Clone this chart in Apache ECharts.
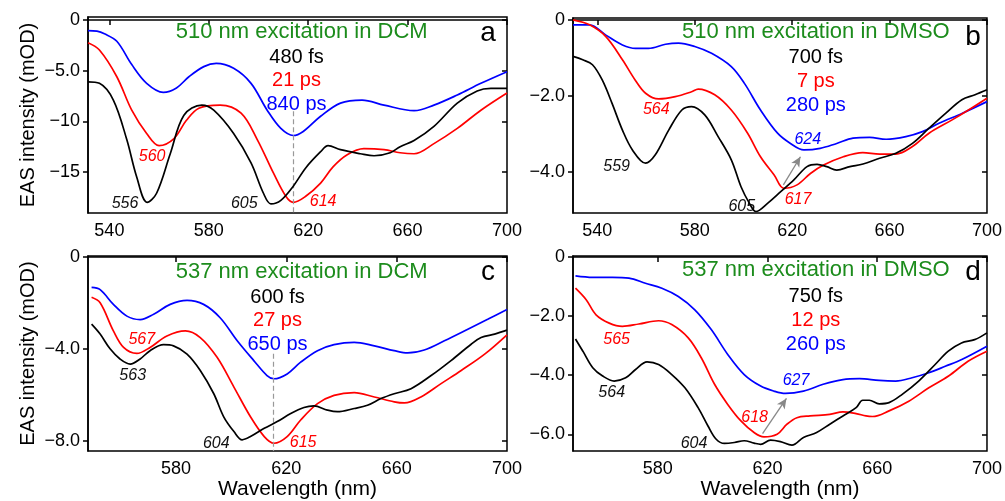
<!DOCTYPE html>
<html><head><meta charset="utf-8">
<script src="https://cdn.jsdelivr.net/npm/echarts@6/dist/echarts.min.js"></script>
<style>html,body{margin:0;padding:0;background:#fff}#c{width:1005px;height:501px}</style>
</head><body><div id="c"></div>
<script>
const FONT = '"Liberation Sans", Arial, Helvetica, sans-serif';

// ---------- data: [wavelength nm, EAS mOD] ----------
const aBlack = [[531.4,-6.1],[536,-6.25],[541.6,-7.9],[547,-11.8],[551,-15.5],[555.2,-18.0],[559,-17.1],[564.5,-13.2],[570,-9.4],[577.2,-8.4],[582,-8.9],[590,-11.2],[597,-14.1],[602,-17.1],[605,-18.15],[609,-17.8],[614,-16.4],[619,-14.6],[625,-13.0],[628,-12.4],[633,-12.8],[641,-13.2],[646.5,-13.4],[653,-13.1],[657,-12.5],[662.6,-11.9],[670.6,-10.5],[680,-8.2],[688,-7.0],[693.5,-6.75],[700,-6.75]];
const aRed = [[531.4,-2.24],[536,-2.96],[543,-5.6],[549,-8.9],[555,-11.2],[560,-12.4],[566,-11.7],[571,-9.9],[576,-8.7],[584.6,-8.4],[593,-9.2],[599.5,-11.8],[606,-15.1],[611,-17.4],[614,-18.0],[619,-17.4],[625,-16.1],[630,-14.5],[635.7,-13.3],[642.4,-12.7],[650.5,-12.8],[657,-13.1],[662.6,-13.2],[670.6,-12.2],[680,-10.7],[689.5,-8.9],[700,-7.2]];
const aBlue = [[531.4,-1.05],[535,-1.1],[538,-1.35],[543,-2.1],[549,-4.4],[555,-6.25],[561.7,-7.14],[567,-6.7],[572,-5.6],[578,-4.6],[583,-4.28],[590,-4.77],[597,-6.25],[603.5,-8.9],[609,-10.7],[614,-11.4],[618,-11.0],[625,-9.5],[633,-8.2],[641.7,-7.9],[650.5,-8.4],[662.6,-8.95],[670.6,-8.4],[680,-7.4],[689.5,-6.25],[700,-5.1]];

const bBlack = [[530,-0.96],[534,-1.05],[538,-1.18],[542,-1.58],[546,-2.19],[550.3,-2.9],[554.4,-3.42],[559.8,-3.77],[563.8,-3.55],[569.3,-2.9],[574.7,-2.37],[578.7,-2.28],[584.1,-2.5],[589.6,-3.07],[595,-3.68],[599,-4.39],[602.4,-4.82],[605.1,-5.04],[610,-4.82],[615.3,-4.52],[620.7,-4.21],[626.1,-3.86],[630.2,-3.8],[634.2,-3.86],[638.3,-3.95],[643.7,-3.86],[649.1,-3.79],[655.9,-3.64],[662.6,-3.51],[669.4,-3.25],[676.2,-2.85],[683,-2.46],[689.7,-2.1],[695.1,-1.97],[700,-1.84]];
const bRed = [[530,0],[536.8,-0.13],[543.5,-0.44],[550.3,-1.05],[555.5,-1.58],[559.8,-1.93],[565.2,-2.08],[572,-2.02],[578.7,-1.89],[581.4,-1.82],[588.2,-1.97],[595,-2.37],[601.7,-2.98],[607,-3.6],[612.6,-4.08],[616.6,-4.43],[622,-4.34],[627.5,-4.04],[632.9,-3.82],[641,-3.6],[649,-3.49],[655.9,-3.53],[662.6,-3.53],[669.4,-3.33],[676.2,-2.98],[685.7,-2.63],[692.4,-2.37],[700,-2.06]];
const bBlue = [[530,-0.13],[536.8,-0.13],[543.5,-0.4],[550.3,-0.66],[555.7,-0.75],[561,-0.75],[568,-0.64],[573.3,-0.61],[580,-0.7],[586.9,-0.88],[595,-1.23],[600.4,-1.67],[607,-2.37],[614,-2.98],[619.3,-3.25],[624.8,-3.42],[631.5,-3.38],[638.3,-3.25],[645,-3.11],[651.8,-3.09],[658.6,-3.14],[666.7,-3.07],[673.5,-2.94],[680.3,-2.72],[689.7,-2.46],[700,-2.15]];

const cBlack = [[549.4,-2.92],[552.5,-3.35],[556.1,-3.99],[559.7,-4.43],[563.4,-4.65],[567,-4.43],[570.6,-4.07],[575.5,-3.81],[579.1,-3.86],[584,-4.22],[588.8,-4.93],[593.7,-5.94],[597.3,-6.94],[601,-7.58],[604,-7.94],[607,-7.8],[612,-7.44],[616.7,-7.15],[621.6,-6.8],[626.4,-6.54],[630,-6.47],[634.9,-6.65],[638.5,-6.72],[644.6,-6.58],[649.4,-6.44],[654.3,-6.15],[659.1,-5.94],[665.2,-5.72],[672.5,-5.15],[679.7,-4.5],[687,-3.79],[690.6,-3.5],[695.5,-3.35],[700,-3.18]];
const cRed = [[549.4,-1.75],[552.5,-1.99],[557.3,-3.21],[561,-3.93],[565.8,-4.19],[570.6,-3.93],[576.7,-3.43],[583.4,-3.21],[588.8,-3.5],[594.9,-4.36],[601,-5.65],[607,-6.94],[612,-7.8],[615.5,-8.09],[620.3,-7.8],[625.2,-7.08],[631.3,-6.37],[637.3,-6.01],[644.6,-5.89],[651.9,-6.08],[659.1,-6.29],[662.8,-6.34],[668.8,-6.08],[676.1,-5.5],[683.4,-4.93],[691.9,-4.22],[700,-3.38]];
const cBlue = [[549.4,-1.32],[552.5,-1.42],[557.3,-2.06],[562.2,-2.57],[567,-2.72],[571.9,-2.49],[577.9,-2.06],[584,-1.89],[590,-2.06],[596,-2.64],[602.2,-3.64],[608.2,-4.5],[613,-5.15],[615.5,-5.29],[620.3,-5.08],[625.2,-4.57],[631.3,-4.07],[637.3,-3.81],[644.6,-3.71],[651.9,-3.86],[659.1,-4.07],[664,-4.17],[670,-4.04],[677.3,-3.64],[685.8,-3.14],[693,-2.71],[700,-2.28]];

const dBlack = [[550,-2.78],[552.7,-3.19],[556.3,-3.75],[559.9,-4.03],[564.1,-4.2],[568.3,-4.09],[571.9,-3.81],[576.1,-3.55],[580.3,-3.64],[585.1,-3.98],[589.9,-4.43],[594.7,-5.1],[598.3,-5.72],[601.3,-6.17],[604.3,-6.31],[607.9,-6.28],[611.5,-6.22],[615.1,-6.3],[617.5,-6.34],[621.1,-6.2],[624.7,-6.25],[628.9,-6.37],[633.1,-6.11],[637.9,-5.94],[642.7,-5.66],[647.5,-5.38],[652.3,-5.1],[654.7,-4.85],[657.1,-4.85],[660.7,-4.97],[664.3,-4.93],[669.1,-4.65],[675.1,-4.2],[681.1,-3.64],[685.9,-3.19],[690.7,-2.91],[695.5,-2.8],[700,-2.57]];
const dRed = [[550,-1.06],[553.9,-1.45],[557.5,-1.96],[562.3,-2.24],[567.1,-2.35],[573.1,-2.27],[580.3,-2.16],[585.1,-2.29],[591.1,-2.74],[595.9,-3.42],[600.7,-4.31],[605.5,-4.99],[610.3,-5.55],[615.1,-5.94],[618.7,-6.09],[623.5,-6.0],[627.1,-5.66],[630.7,-5.44],[635.5,-5.38],[642.7,-5.33],[647.5,-5.24],[652.3,-5.3],[655.9,-5.38],[658.3,-5.4],[664.3,-5.21],[671.5,-4.88],[678.8,-4.43],[686,-4.03],[693.1,-3.53],[700,-3.19]];
const dBlue = [[550,-0.64],[556.3,-0.69],[563.5,-0.69],[569.5,-0.72],[575.5,-0.89],[581.5,-1.06],[587.5,-1.34],[593.5,-1.79],[599.5,-2.46],[605.5,-3.3],[611.5,-3.98],[617.5,-4.37],[622.3,-4.54],[626.5,-4.62],[633.1,-4.54],[640.3,-4.31],[647.5,-4.15],[653.5,-4.12],[660.7,-4.18],[666.7,-4.2],[672.7,-4.09],[678.8,-3.92],[684.8,-3.7],[690.8,-3.47],[700,-3.02]];

// ---------- ticks / labels ----------
const abXTicks = [540, 580, 620, 660, 700];
const cdXTicks = [580, 620, 660, 700];
const aYTicks = [-15, -10, -5, 0];
const aYTickLabels = ['\u221215', '\u221210', '\u22125.0', '0'];
const bYTicks = [-4, -2, 0];
const bYTickLabels = ['\u22124.0', '\u22122.0', '0'];
const cYTicks = [-8, -4, 0];
const cYTickLabels = ['\u22128.0', '\u22124.0', '0'];
const dYTicks = [-6, -4, -2, 0];
const dYTickLabels = ['\u22126.0', '\u22124.0', '\u22122.0', '0'];

const panelTitles = ['510 nm excitation in DCM', '510 nm excitation in DMSO', '537 nm excitation in DCM', '537 nm excitation in DMSO'];
const panelLetters = ['a', 'b', 'c', 'd'];
const lifetimes = [['480 fs', '21 ps', '840 ps'], ['700 fs', '7 ps', '280 ps'], ['600 fs', '27 ps', '650 ps'], ['750 fs', '12 ps', '260 ps']];
const yAxisName = 'EAS intensity (mOD)';
const xAxisName = 'Wavelength (nm)';

// peak annotations: [text, series index (0 black,1 red,2 blue), nm, mOD]
const aPeaks = [['556',0,546.3,-18.16],['605',0,594.3,-18.16],['560',1,557.2,-13.5],['614',1,626.0,-17.94]];
const bPeaks = [['559',0,547.9,-3.86],['605',0,599.3,-4.91],['564',1,564.2,-2.37],['617',1,622.4,-4.72],['624',2,626.4,-3.16]];
const cPeaks = [['563',0,564.3,-5.15],['604',0,594.6,-8.09],['567',1,567.6,-3.6],['615',1,626.1,-8.06]];
const dPeaks = [['564',0,563.2,-4.59],['604',0,593.2,-6.31],['565',1,565.0,-2.8],['618',1,615.3,-5.44],['627',2,630.4,-4.2]];
// guide lines: dashed verticals and arrows [[x1,y1],[x2,y2]]
const aDash = [[614,-9.0],[614,-19.05]];
const cDash = [[615.2,-4.2],[615.2,-8.43]];
const bArrow = [[616.4,-4.34],[623.4,-3.6]];
const dArrow = [[618.2,-5.98],[626.9,-4.79]];

// ---------- layout / style ----------
const COLORS = ['#000000', '#ff0000', '#0000ff'];
const GREEN = '#1c8c1c';
const panels = [
  {grid:{left:88,top:17,width:419,height:196}, x:[531.4,700], y:[-19.05,0.3], xt:abXTicks, yt:aYTicks, yl:aYTickLabels, s:[aBlack,aRed,aBlue], peaks:aPeaks, dash:aDash, yName:true, xName:false,
   title:[301.7,31.7], life:[296.5,57.3,23.5], letter:[488,33]},
  {grid:{left:573,top:18,width:419,height:195}, x:[530,700], y:[-5.08,0.05], xt:abXTicks, yt:bYTicks, yl:bYTickLabels, s:[bBlack,bRed,bBlue], peaks:bPeaks, arrow:bArrow, yName:false, xName:false,
   title:[815.8,32], life:[815.8,57,24], letter:[973,37]},
  {grid:{left:88,top:256,width:419,height:197}, x:[548.1,700], y:[-8.43,0.04], xt:cdXTicks, yt:cYTicks, yl:cYTickLabels, s:[cBlack,cRed,cBlue], peaks:cPeaks, dash:cDash, yName:true, xName:true,
   title:[301.7,271.7], life:[277.5,297.3,23.4], letter:[488,272]},
  {grid:{left:573,top:256,width:419,height:196}, x:[549.1,700], y:[-6.57,0.03], xt:cdXTicks, yt:dYTicks, yl:dYTickLabels, s:[dBlack,dRed,dBlue], peaks:dPeaks, arrow:dArrow, yName:false, xName:true,
   title:[815.8,270], life:[815.8,296.7,23.7], letter:[973,272]}
];

const grid = [], xAxis = [], yAxis = [], series = [], graphic = [];
panels.forEach((p, i) => {
  grid.push(Object.assign({show:true, borderColor:'#000', borderWidth:1.5, backgroundColor:'transparent'}, p.grid));
  const xi = xAxis.length, yi = yAxis.length;
  xAxis.push({type:'value', gridIndex:i, min:p.x[0], max:p.x[1], splitLine:{show:false},
    axisLine:{show:true, lineStyle:{color:'#000', width:1.5}},
    axisTick:{show:true, inside:false, length:4, customValues:p.xt, lineStyle:{color:'#000', width:1.5}},
    axisLabel:{show:true, customValues:p.xt, margin:9, color:'#000', fontSize:18, fontFamily:FONT, formatter:v => String(Math.round(v))},
    name: p.xName ? xAxisName : '', nameLocation:'middle', nameGap:27,
    nameTextStyle:{fontSize:21, color:'#000', fontFamily:FONT, verticalAlign:'top'}});
  xAxis.push({type:'value', gridIndex:i, min:p.x[0], max:p.x[1], splitLine:{show:false},
    axisLine:{show:false}, axisLabel:{show:false},
    axisTick:{show:true, inside:true, length:5, customValues:p.xt, lineStyle:{color:'#000', width:1.5}}});
  yAxis.push({type:'value', gridIndex:i, min:p.y[0], max:p.y[1], splitLine:{show:false},
    axisLine:{show:true, lineStyle:{color:'#000', width:1.5}},
    axisTick:{show:true, inside:false, length:5, customValues:p.yt, lineStyle:{color:'#000', width:1.5}},
    axisLabel:{show:true, customValues:p.yt, margin:8, color:'#000', fontSize:18, fontFamily:FONT,
      formatter:v => { const k = p.yt.findIndex(t => Math.abs(t - v) < 1e-6); return k >= 0 ? p.yl[k] : ''; }},
    name: p.yName ? yAxisName : '', nameLocation:'middle', nameGap:50, nameRotate:90,
    nameTextStyle:{fontSize:20, color:'#000', fontFamily:FONT}});
  yAxis.push({type:'value', gridIndex:i, min:p.y[0], max:p.y[1], splitLine:{show:false},
    axisLine:{show:false}, axisLabel:{show:false},
    axisTick:{show:true, inside:true, length:5, customValues:p.yt, lineStyle:{color:'#000', width:1.5}}});

  p.s.forEach((d, k) => {
    const ser = {type:'line', xAxisIndex:xi, yAxisIndex:yi, data:d, showSymbol:false, smooth:0.35,
      lineStyle:{color:COLORS[k], width:1.7}, itemStyle:{color:COLORS[k]}, silent:true, animation:false, z:3 - k + 2};
    const marks = p.peaks.filter(q => q[1] === k);
    if (marks.length) {
      ser.markPoint = {silent:true, animation:false, symbol:'rect', symbolSize:1, itemStyle:{color:'rgba(0,0,0,0)'},
        data: marks.map(q => ({coord:[q[2], q[3]], value:q[0],
          label:{show:true, position:'inside', formatter:q[0], color:k === 0 ? '#111' : COLORS[k], fontStyle:'italic', fontSize:16, fontFamily:FONT}}))};
    }
    if (k === 2 && p.dash) {
      ser.markLine = {silent:true, animation:false, symbol:['none','none'], label:{show:false},
        lineStyle:{color:'#999', type:[5,3], width:1.2},
        data:[[{coord:p.dash[0]}, {coord:p.dash[1]}]]};
    }
    if (k === 2 && p.arrow) {
      ser.markLine = {silent:true, animation:false, symbol:['none','arrow'], symbolSize:[7,10], label:{show:false},
        lineStyle:{color:'#888', type:'solid', width:1.3},
        data:[[{coord:p.arrow[0]}, {coord:p.arrow[1]}]]};
    }
    series.push(ser);
  });

  graphic.push({type:'text', x:p.title[0], y:p.title[1], z:100,
    style:{text:panelTitles[i], fill:GREEN, fontSize:22, fontFamily:FONT, align:'center', verticalAlign:'middle'}});
  lifetimes[i].forEach((t, k) => graphic.push({type:'text', x:p.life[0], y:p.life[1] + k * p.life[2], z:100,
    style:{text:t, fill:COLORS[k], fontSize:20, fontFamily:FONT, align:'center', verticalAlign:'middle'}}));
  graphic.push({type:'text', x:p.letter[0], y:p.letter[1], z:100,
    style:{text:panelLetters[i], fill:'#000', fontSize:28, fontFamily:FONT, align:'center', verticalAlign:'middle'}});
});

const chart = echarts.init(document.getElementById('c'), null, {renderer:'canvas'});
chart.setOption({animation:false, backgroundColor:'#fff', textStyle:{fontFamily:FONT}, grid, xAxis, yAxis, series, graphic});
</script></body></html>
